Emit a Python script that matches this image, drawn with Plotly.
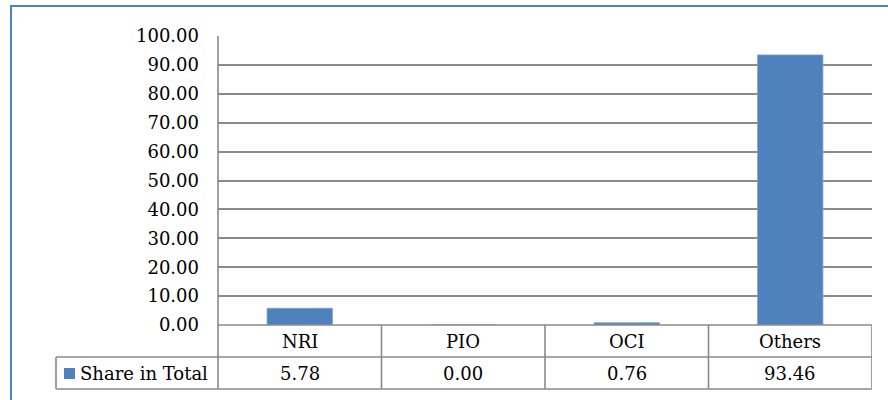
import plotly.graph_objects as go

categories = ["NRI", "PIO", "OCI", "Others"]
share_in_total = [5.78, 0.00, 0.76, 93.46]
series_name = "Share in Total"
y_ticks = [0, 10, 20, 30, 40, 50, 60, 70, 80, 90, 100]

W, H = 888, 400
FONT = "DejaVu Serif"
FS = 18
BAR = "#4F81BD"
GRID = "#8a8a8a"

def px(x):
    return x / W

def py(y):
    return 1 - y / H

plot_left, plot_right, plot_top, plot_bottom = 218, 872, 36, 325
row1_bottom, row2_bottom = 357, 389
legend_left = 56

fig = go.Figure()
fig.add_trace(go.Bar(x=categories, y=share_in_total, name=series_name,
                     marker=dict(color=BAR, line=dict(color="#7fa3d3", width=0.8)),
                     width=0.4, showlegend=False))

shapes = []
line = dict(color=GRID, width=1.6)
# outer border
shapes.append(dict(type="rect", xref="paper", yref="paper",
                   x0=px(11), x1=px(W + 5), y0=py(H + 5), y1=py(6),
                   line=dict(color=BAR, width=2), fillcolor="rgba(0,0,0,0)", layer="below"))
# left axis line through table
shapes.append(dict(type="line", xref="paper", yref="paper",
                   x0=px(plot_left), x1=px(plot_left), y0=py(plot_top), y1=py(row2_bottom), line=line))
# horizontal table lines
shapes.append(dict(type="line", xref="paper", yref="paper",
                   x0=px(plot_left), x1=px(plot_right), y0=py(plot_bottom), y1=py(plot_bottom), line=line))
for yy in (row1_bottom, row2_bottom):
    shapes.append(dict(type="line", xref="paper", yref="paper",
                       x0=px(legend_left), x1=px(plot_right), y0=py(yy), y1=py(yy), line=line))
# legend cell left edge
shapes.append(dict(type="line", xref="paper", yref="paper",
                   x0=px(legend_left), x1=px(legend_left), y0=py(row1_bottom), y1=py(row2_bottom), line=line))
# vertical category separators
for i in range(len(categories)):
    xb = i + 0.5
    shapes.append(dict(type="line", xref="x", yref="paper",
                       x0=xb, x1=xb, y0=py(plot_bottom), y1=py(row2_bottom), line=line))
# legend square
shapes.append(dict(type="rect", xref="paper", yref="paper",
                   x0=px(64), x1=px(75), y0=py(379), y1=py(368),
                   line=dict(width=0), fillcolor=BAR))

annotations = []
for c, v in zip(categories, share_in_total):
    annotations.append(dict(x=c, xref="x", y=py((plot_bottom + row1_bottom) / 2), yref="paper",
                            text=c, showarrow=False, xanchor="center", yanchor="middle",
                            font=dict(family=FONT, size=FS, color="black")))
    annotations.append(dict(x=c, xref="x", y=py((row1_bottom + row2_bottom) / 2), yref="paper",
                            text=f"{v:.2f}", showarrow=False, xanchor="center", yanchor="middle",
                            font=dict(family=FONT, size=FS, color="black")))
annotations.append(dict(x=px(78), xref="paper", y=py((row1_bottom + row2_bottom) / 2), yref="paper",
                        text=series_name, showarrow=False, xanchor="left", yanchor="middle",
                        font=dict(family=FONT, size=FS, color="black")))

fig.update_layout(
    width=W, height=H, autosize=False,
    margin=dict(l=0, r=0, t=0, b=0, autoexpand=False),
    paper_bgcolor="white", plot_bgcolor="white",
    font=dict(family=FONT, size=FS, color="black"),
    shapes=shapes, annotations=annotations,
    xaxis=dict(domain=[px(plot_left), px(plot_right)], range=[-0.5, len(categories) - 0.5],
               showticklabels=False, showgrid=False, zeroline=False, showline=False,
               fixedrange=True, automargin=False),
    yaxis=dict(domain=[py(plot_bottom), py(plot_top)], range=[0, 100],
               tickvals=y_ticks, tickformat=".2f", showgrid=True, gridcolor=GRID, gridwidth=1.6,
               zeroline=False, showline=False, ticks="", ticklabelstandoff=18,
               tickfont=dict(family=FONT, size=FS, color="black"), fixedrange=True, automargin=False),
)

fig.write_html("out.html", config={"displayModeBar": False},
               post_script="document.body.style.margin='0';document.body.style.overflow='hidden';")
